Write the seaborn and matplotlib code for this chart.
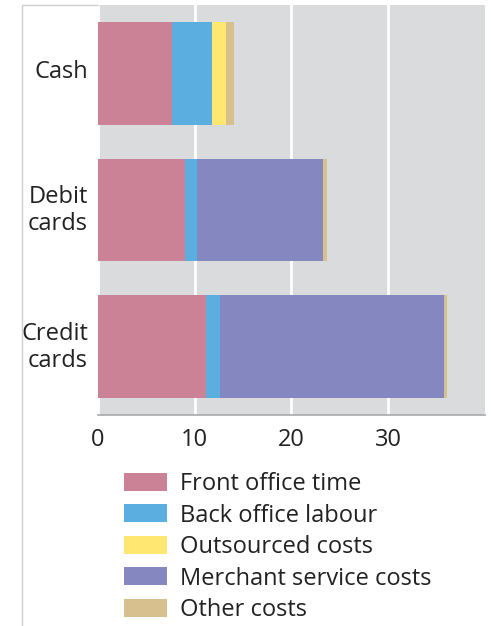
import matplotlib
matplotlib.use("Agg")

import matplotlib.pyplot as plt
import matplotlib.transforms as mtransforms
import numpy as np
import pandas as pd
import seaborn as sns
from matplotlib.lines import Line2D
from matplotlib.patches import Patch

# Cost per transaction by payment method
METHODS = ["Cash", "Debit\ncards", "Credit\ncards"]
COMPONENTS = [
    "Front office time",
    "Back office labour",
    "Outsourced costs",
    "Merchant service costs",
    "Other costs",
]
front_office = [7.7, 9.05, 11.2]
back_office = [4.1, 1.25, 1.4]
outsourced = [1.4, 0.0, 0.0]
merchant = [0.0, 13.0, 23.2]
other = [0.9, 0.35, 0.3]
X_TICKS = [0, 10, 20, 30]

COLORS = ["#cc8296", "#5aaee0", "#ffe772", "#8487c0", "#d8bf8e"]
FONT_SIZE = 17


def main() -> None:
    values = pd.DataFrame(
        np.column_stack([front_office, back_office, outsourced, merchant, other]),
        columns=COMPONENTS,
    )
    stacked = values.cumsum(axis=1)
    stacked["Method"] = METHODS

    sns.set_theme(style="white")
    plt.rcParams["font.family"] = ["Open Sans", "DejaVu Sans"]

    fig = plt.figure(figsize=(4.91, 6.26), dpi=100)
    ax = fig.add_axes([0.199, 0.337, 0.789, 0.655])
    ax.set_facecolor("#dadbdc")

    # draw cumulative totals from the outermost segment inwards
    for component, color in reversed(list(zip(COMPONENTS, COLORS))):
        sns.barplot(
            data=stacked,
            x=component,
            y="Method",
            order=METHODS,
            orient="h",
            color=color,
            width=0.75,
            saturation=1,
            linewidth=0,
            ax=ax,
            zorder=3,
        )

    ax.set_xlim(0, 40)
    ax.set_ylim(2.5, -0.5)
    ax.set_xticks(X_TICKS)
    ax.set_xticklabels([str(t) for t in X_TICKS])
    ax.set_xlabel("")
    ax.set_ylabel("")
    ax.grid(axis="x", color="white", linewidth=2, zorder=0)
    ax.set_axisbelow(True)
    for side in ["top", "right", "left"]:
        ax.spines[side].set_visible(False)
    ax.spines["bottom"].set_color("#a9a9a9")
    ax.spines["bottom"].set_linewidth(1.2)
    ax.spines["bottom"].set_zorder(5)
    ax.tick_params(axis="x", length=0, pad=9, labelsize=FONT_SIZE, colors="#222222")
    ax.tick_params(axis="y", length=0, pad=7, labelsize=FONT_SIZE, colors="#222222")
    nudge = mtransforms.ScaledTranslation(0, 4 / 100, fig.dpi_scale_trans)
    for label in ax.get_yticklabels():
        label.set_horizontalalignment("right")
        label.set_multialignment("right")
        label.set_linespacing(1.18)
        label.set_transform(label.get_transform() + nudge)

    handles = [Patch(facecolor=c, edgecolor="none") for c in COLORS]
    fig.legend(
        handles,
        COMPONENTS,
        loc="upper left",
        bbox_to_anchor=(124 / 491, 1 - 472 / 626),
        frameon=False,
        fontsize=FONT_SIZE,
        handlelength=1.82,
        handleheight=0.8,
        handletextpad=0.55,
        labelspacing=0.32,
        borderpad=0,
        borderaxespad=0,
        labelcolor="#222222",
    )

    # thin panel border on the left/top like the original
    border = "#cfcfcf"
    fig.add_artist(Line2D([22 / 491, 22 / 491], [0, 1 - 5 / 626], color=border, linewidth=1))
    fig.add_artist(Line2D([22 / 491, 98 / 491], [1 - 5 / 626, 1 - 5 / 626], color=border, linewidth=1))

    fig.savefig("out.png", dpi=100)
    plt.close(fig)


if __name__ == "__main__":
    main()
